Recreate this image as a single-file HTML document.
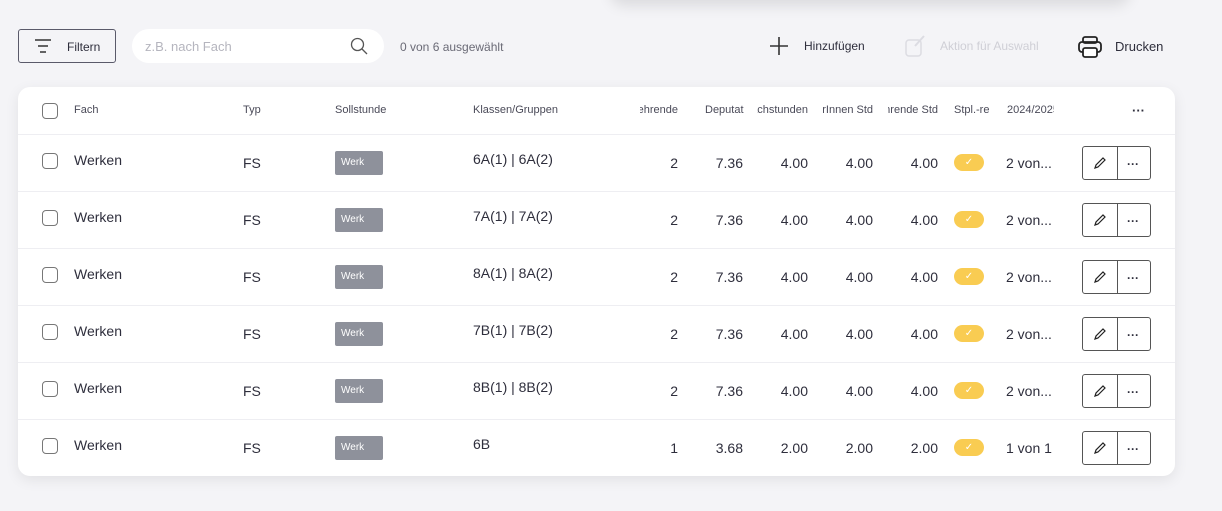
<!DOCTYPE html>
<html><head><meta charset="utf-8"><style>
body{margin:0;width:1222px;height:511px;background:#f4f4f7;font-family:"Liberation Sans",sans-serif;position:relative;overflow:hidden;color:#2e2e3c}
.a{position:absolute;white-space:nowrap}
.topcard{position:absolute;left:610px;top:-30px;width:520px;height:30px;background:#f4f4f7;box-shadow:0 6px 14px rgba(0,0,0,.10);border-radius:0 0 14px 14px}
.filter{left:18px;top:29px;width:98px;height:34px;border:1px solid #5a5a6a;border-radius:3px;box-sizing:border-box}
.search{left:132px;top:29px;width:252px;height:34px;background:#fff;border-radius:17px}
.card{left:18px;top:87px;width:1157px;height:389px;background:#fff;border-radius:12px;box-shadow:0 4px 14px rgba(0,0,0,.08)}
.hd{font-size:11px;color:#4a4a58;top:104px}
.sep{position:absolute;left:18px;width:1157px;height:1px;background:#eeeef2}
.cb{position:absolute;left:42px;width:14px;height:14px;border:1px solid #777;border-radius:4px}
.t{font-size:14px}
.werk{position:absolute;left:335px;width:48px;height:24px;background:#8e919b;border-radius:2px;color:#fff;font-size:10px;line-height:24px;padding-left:6px;box-sizing:border-box}
.num{font-size:14px;text-align:right}
.badge{position:absolute;left:954px;width:30px;height:17px;background:#f9cc52;border-radius:9px;color:#fff;font-size:10px;text-align:center;line-height:17px}
.btn{position:absolute;left:1082px;width:69px;height:34px;border:1px solid #555;border-radius:3px;box-sizing:border-box}
.btn:after{content:"";position:absolute;left:34px;top:0;width:1px;height:32px;background:#555}
</style></head><body>
<div class="topcard"></div>
<div class="a filter"><svg style="position:absolute;left:15px;top:9px" width="18" height="14"><path d="M1 1h16M4 7h10M6 13h6" stroke="#333" stroke-width="1.5"/></svg><span class="a" style="left:48px;top:10px;font-size:12px">Filtern</span></div>
<div class="a search"><span class="a" style="left:13px;top:10px;font-size:13px;color:#b5b5be">z.B. nach Fach</span><svg class="a" style="left:218px;top:8px" width="18" height="18"><circle cx="7.5" cy="7.5" r="6" fill="none" stroke="#555" stroke-width="1.3"/><path d="M12 12l5 5" stroke="#555" stroke-width="1.3"/></svg></div>
<span class="a" style="left:400px;top:40px;font-size:12px;color:#6a6a76">0 von 6 ausgewählt</span>
<svg class="a" style="left:770px;top:37px" width="18" height="18"><path d="M9 0v18M0 9h18" stroke="#333" stroke-width="1.6"/></svg>
<span class="a" style="left:804px;top:39px;font-size:12px">Hinzufügen</span>
<svg class="a" style="left:905px;top:34px" width="22" height="24"><rect x="1" y="6" width="15" height="16" rx="3" fill="none" stroke="#dcdce2" stroke-width="1.5"/><path d="M10 12l9-10" stroke="#dcdce2" stroke-width="2"/></svg>
<span class="a" style="left:940px;top:39px;font-size:12px;color:#cfcfd6">Aktion für Auswahl</span>
<svg class="a" style="left:1078px;top:36px" width="24" height="22"><rect x="5" y="1" width="14" height="6" rx="2" fill="none" stroke="#222" stroke-width="1.8"/><rect x="1" y="6" width="22" height="10" rx="3" fill="none" stroke="#222" stroke-width="1.8"/><rect x="5" y="12" width="14" height="9" rx="2" fill="#fff" stroke="#222" stroke-width="1.8"/></svg>
<span class="a" style="left:1115px;top:39px;font-size:13px">Drucken</span>
<div class="a card"></div>
<div class="cb" style="top:103px"></div>
<span class="a hd" style="left:74px">Fach</span><span class="a hd" style="left:243px">Typ</span><span class="a hd" style="left:335px">Sollstunde</span><span class="a hd" style="left:473px">Klassen/Gruppen</span>
<span class="a hd" style="left:640px;width:38px;overflow:hidden;direction:rtl">Lehrende</span>
<span class="a hd" style="left:705px">Deputat</span>
<span class="a hd" style="left:757px;width:51px;overflow:hidden;direction:rtl">Fachstunden</span>
<span class="a hd" style="left:823px;width:50px;overflow:hidden;direction:rtl">LehrerInnen Std.</span>
<span class="a hd" style="left:888px;width:50px;overflow:hidden;direction:rtl">Lehrende Std.</span>
<span class="a hd" style="left:954px;width:36px;overflow:hidden">Stpl.-relevant</span>
<span class="a hd" style="left:1007px;width:47px;overflow:hidden">2024/2025</span>
<span class="a" style="left:1132px;top:103px;font-size:13px;font-weight:bold">···</span>
<div id="rows"></div>
<script>
var d=[["6A(1) | 6A(2)","2","7.36","4.00","2 von..."],["7A(1) | 7A(2)","2","7.36","4.00","2 von..."],["8A(1) | 8A(2)","2","7.36","4.00","2 von..."],["7B(1) | 7B(2)","2","7.36","4.00","2 von..."],["8B(1) | 8B(2)","2","7.36","4.00","2 von..."],["6B","1","3.68","2.00","1 von 1"]];
var h="";d.forEach(function(r,i){var y=134+i*57;
h+='<div class="sep" style="top:'+y+'px"></div>';
h+='<div class="cb" style="top:'+(y+19)+'px"></div>';
h+='<span class="a t" style="left:74px;top:'+(y+18)+'px">Werken</span>';
h+='<span class="a t" style="left:243px;top:'+(y+21)+'px">FS</span>';
h+='<div class="werk" style="top:'+(y+17)+'px">Werk</div>';
h+='<span class="a t" style="left:473px;top:'+(y+17)+'px">'+r[0]+'</span>';
[[678,r[1]],[743,r[2]],[808,r[3]],[873,r[3]],[938,r[3]]].forEach(function(c){h+='<span class="a num" style="left:'+(c[0]-60)+'px;width:60px;top:'+(y+21)+'px">'+c[1]+'</span>'});
h+='<div class="badge" style="top:'+(y+20)+'px">✓</div>';
h+='<span class="a t" style="left:1006px;top:'+(y+21)+'px">'+r[4]+'</span>';
h+='<div class="btn" style="top:'+(y+12)+'px"><svg style="position:absolute;left:10px;top:9px" width="14" height="14"><path d="M2 12l1-3 7-7 2 2-7 7z" fill="none" stroke="#222" stroke-width="1.2"/></svg><span style="position:absolute;left:44px;top:10px;font-size:12px;font-weight:bold">···</span></div>';
});document.getElementById("rows").innerHTML=h;
</script>
</body></html>
